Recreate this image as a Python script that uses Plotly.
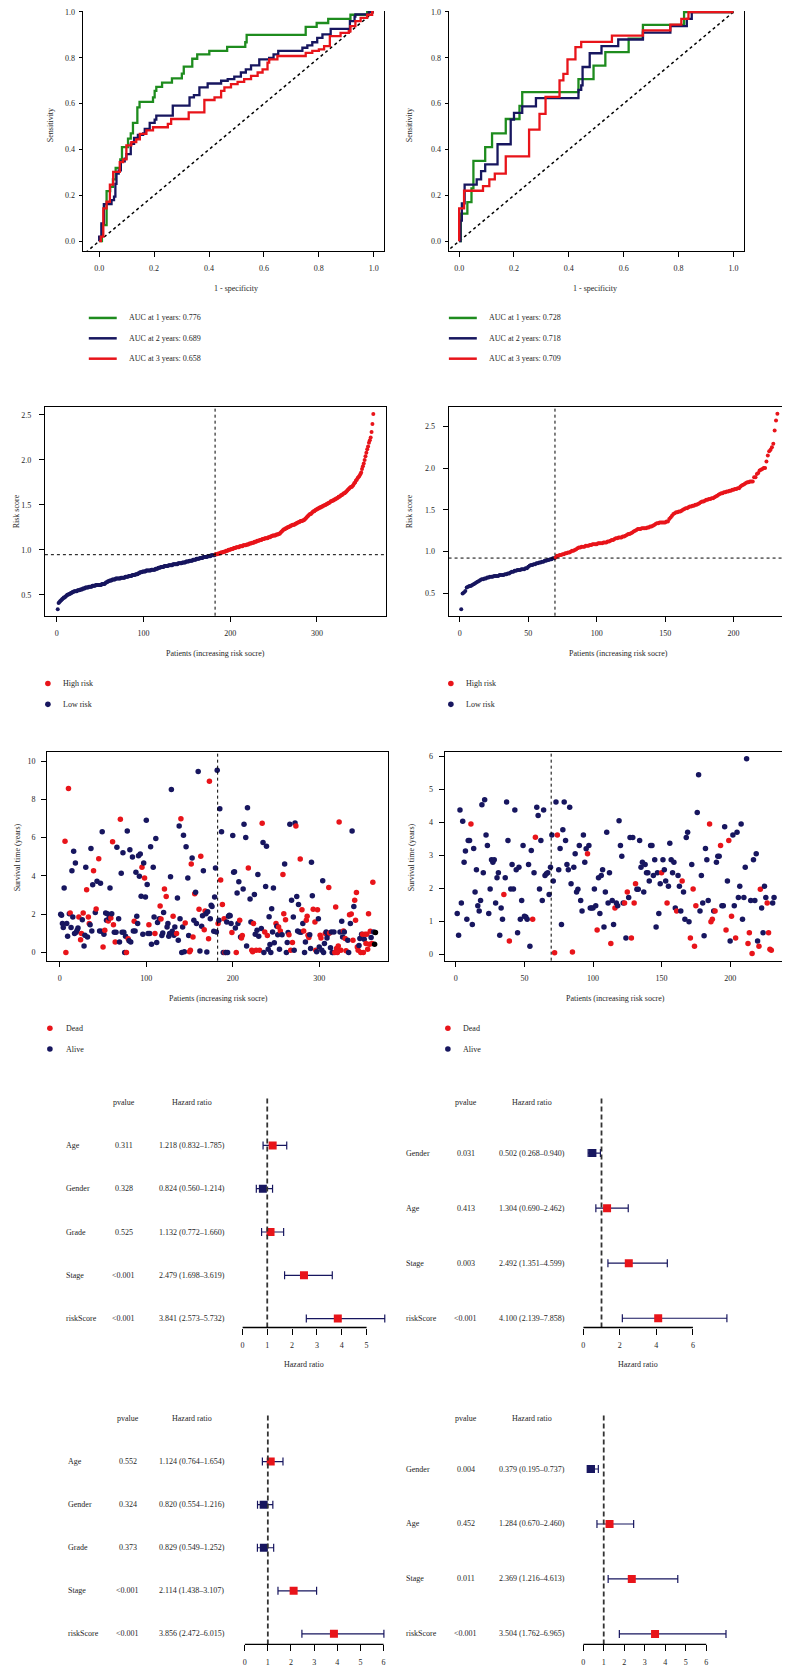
import plotly.graph_objects as go

# the page puts the figure 8 px in from the top-left corner of the window
OFF = 8
FW, FH = 790 - OFF, 1667 - OFF
FONT = "Liberation Serif"
INK = "#262626"
RED = "#E8141A"
NAVY = "#17165F"
GREEN = "#1E8C1E"

# ---------------- ROC (step corners: 1 - specificity, sensitivity) ----------------
roc_train_1y_x = [0, 0.005, 0.01, 0.027, 0.04, 0.05, 0.06, 0.077, 0.083, 0.105, 0.115, 0.123, 0.139, 0.147,
                  0.196, 0.202, 0.208, 0.229, 0.265, 0.301, 0.308, 0.339, 0.357, 0.401, 0.466, 0.532, 0.537,
                  0.752, 0.792, 0.834, 0.915, 0.976, 1.0]
roc_train_1y_y = [0, 0, 0.07, 0.218, 0.237, 0.27, 0.32, 0.357, 0.41, 0.447, 0.47, 0.516, 0.584, 0.608,
                  0.627, 0.656, 0.673, 0.692, 0.71, 0.731, 0.762, 0.796, 0.815, 0.83, 0.848, 0.868, 0.9,
                  0.935, 0.952, 0.97, 0.988, 1.0, 1.0]
roc_train_2y_x = [0, 0, 0.008, 0.017, 0.045, 0.054, 0.059, 0.063, 0.071, 0.079, 0.093, 0.099, 0.115, 0.127,
                  0.141, 0.16, 0.166, 0.184, 0.202, 0.208, 0.268, 0.329, 0.345, 0.365, 0.395, 0.444, 0.468,
                  0.492, 0.516, 0.534, 0.553, 0.583, 0.619, 0.635, 0.652, 0.74, 0.758, 0.776, 0.794, 0.813,
                  0.843, 0.913, 0.93, 0.933, 0.982, 1.0]
roc_train_2y_y = [0, 0.02, 0.078, 0.162, 0.179, 0.194, 0.25, 0.295, 0.309, 0.348, 0.36, 0.38, 0.425, 0.451,
                  0.464, 0.47, 0.49, 0.516, 0.53, 0.548, 0.591, 0.627, 0.637, 0.671, 0.688, 0.7, 0.707,
                  0.718, 0.736, 0.75, 0.767, 0.793, 0.8, 0.815, 0.83, 0.844, 0.854, 0.868, 0.887, 0.902,
                  0.926, 0.96, 0.98, 0.99, 1.0, 1.0]
roc_train_3y_x = [0, 0.006, 0.015, 0.027, 0.039, 0.051, 0.075, 0.087, 0.099, 0.117, 0.135, 0.148, 0.172,
                  0.196, 0.25, 0.262, 0.326, 0.383, 0.42, 0.444, 0.456, 0.48, 0.504, 0.528, 0.553, 0.577,
                  0.595, 0.613, 0.619, 0.649, 0.752, 0.776, 0.8, 0.819, 0.84, 0.879, 0.909, 0.915, 0.933,
                  0.952, 0.976, 0.994, 1.0]
roc_train_3y_y = [0, 0.02, 0.143, 0.172, 0.247, 0.302, 0.345, 0.357, 0.418, 0.432, 0.444, 0.468, 0.483,
                  0.497, 0.512, 0.533, 0.562, 0.616, 0.627, 0.656, 0.671, 0.685, 0.695, 0.707, 0.721, 0.736,
                  0.75, 0.779, 0.793, 0.808, 0.822, 0.83, 0.837, 0.851, 0.895, 0.909, 0.916, 0.938, 0.96,
                  0.974, 0.988, 1.0, 1.0]
roc_test_1y_x = [0, 0.006, 0.03, 0.045, 0.052, 0.095, 0.12, 0.17, 0.22, 0.23, 0.435, 0.49, 0.533, 0.618,
                 0.67, 0.82, 1.0]
roc_test_1y_y = [0, 0.12, 0.17, 0.23, 0.35, 0.41, 0.47, 0.533, 0.59, 0.65, 0.707, 0.766, 0.825, 0.884,
                 0.944, 1.0, 1.0]
roc_test_2y_x = [0, 0.005, 0.01, 0.02, 0.064, 0.08, 0.095, 0.14, 0.188, 0.2, 0.23, 0.28, 0.435, 0.445,
                 0.45, 0.476, 0.519, 0.58, 0.67, 0.77, 0.83, 0.848, 1.0]
roc_test_2y_y = [0, 0.09, 0.165, 0.247, 0.27, 0.306, 0.335, 0.423, 0.53, 0.56, 0.588, 0.624, 0.66, 0.68,
                 0.76, 0.82, 0.851, 0.88, 0.91, 0.938, 0.97, 1.0, 1.0]
roc_test_3y_x = [0, 0, 0.018, 0.087, 0.11, 0.13, 0.17, 0.255, 0.293, 0.315, 0.366, 0.38, 0.395, 0.424,
                 0.445, 0.557, 0.67, 0.77, 0.81, 0.836, 1.0]
roc_test_3y_y = [0, 0.143, 0.22, 0.24, 0.27, 0.295, 0.37, 0.487, 0.555, 0.63, 0.702, 0.73, 0.793, 0.847,
                 0.87, 0.897, 0.92, 0.945, 0.97, 1.0, 1.0]
auc_train = [0.776, 0.689, 0.658]
auc_test = [0.728, 0.718, 0.709]

# ---------------- risk score curves (sorted) ----------------
risk_train = [
    0.34, 0.41, 0.42, 0.43, 0.44, 0.45, 0.46, 0.47, 0.47, 0.48,
    0.49, 0.50, 0.50, 0.51, 0.51, 0.52, 0.52, 0.53, 0.53, 0.54,
    0.54, 0.54, 0.54, 0.55, 0.55, 0.55, 0.56, 0.56, 0.56, 0.57,
    0.57, 0.57, 0.58, 0.58, 0.58, 0.58, 0.59, 0.59, 0.59, 0.59,
    0.60, 0.60, 0.60, 0.60, 0.61, 0.61, 0.61, 0.61, 0.61, 0.61,
    0.61, 0.62, 0.62, 0.62, 0.62, 0.63, 0.64, 0.64, 0.65, 0.65,
    0.66, 0.66, 0.66, 0.67, 0.67, 0.67, 0.67, 0.68, 0.68, 0.68,
    0.68, 0.68, 0.68, 0.69, 0.69, 0.69, 0.69, 0.69, 0.70, 0.70,
    0.70, 0.70, 0.71, 0.71, 0.71, 0.71, 0.72, 0.72, 0.72, 0.72,
    0.73, 0.73, 0.73, 0.74, 0.74, 0.75, 0.75, 0.75, 0.76, 0.76,
    0.76, 0.76, 0.77, 0.77, 0.77, 0.77, 0.77, 0.77, 0.78, 0.78,
    0.78, 0.78, 0.78, 0.79, 0.79, 0.79, 0.80, 0.80, 0.80, 0.81,
    0.81, 0.81, 0.81, 0.82, 0.82, 0.82, 0.82, 0.82, 0.83, 0.83,
    0.83, 0.83, 0.83, 0.84, 0.84, 0.84, 0.84, 0.84, 0.84, 0.85,
    0.85, 0.85, 0.85, 0.85, 0.86, 0.86, 0.86, 0.86, 0.87, 0.87,
    0.87, 0.87, 0.88, 0.88, 0.88, 0.88, 0.89, 0.89, 0.89, 0.89,
    0.90, 0.90, 0.90, 0.90, 0.91, 0.91, 0.91, 0.91, 0.92, 0.92,
    0.92, 0.92, 0.92, 0.93, 0.93, 0.93, 0.93, 0.94, 0.94, 0.94,
    0.94, 0.94, 0.95, 0.95, 0.95, 0.96, 0.96, 0.96, 0.97, 0.97,
    0.97, 0.98, 0.98, 0.98, 0.99, 0.99, 0.99, 1.00, 1.00, 1.00,
    1.01, 1.01, 1.01, 1.02, 1.02, 1.02, 1.03, 1.03, 1.03, 1.03,
    1.04, 1.04, 1.04, 1.04, 1.05, 1.05, 1.05, 1.05, 1.06, 1.06,
    1.06, 1.07, 1.07, 1.07, 1.08, 1.08, 1.08, 1.09, 1.09, 1.09,
    1.10, 1.10, 1.10, 1.11, 1.11, 1.11, 1.12, 1.12, 1.12, 1.13,
    1.13, 1.13, 1.13, 1.14, 1.14, 1.14, 1.15, 1.15, 1.16, 1.16,
    1.16, 1.16, 1.17, 1.17, 1.17, 1.18, 1.18, 1.19, 1.20, 1.21,
    1.22, 1.23, 1.23, 1.24, 1.24, 1.25, 1.25, 1.26, 1.26, 1.27,
    1.27, 1.28, 1.28, 1.28, 1.29, 1.29, 1.30, 1.30, 1.31, 1.31,
    1.32, 1.32, 1.32, 1.33, 1.33, 1.34, 1.35, 1.36, 1.37, 1.38,
    1.39, 1.40, 1.40, 1.41, 1.42, 1.43, 1.43, 1.44, 1.45, 1.45,
    1.46, 1.46, 1.47, 1.47, 1.48, 1.48, 1.49, 1.49, 1.50, 1.50,
    1.51, 1.51, 1.52, 1.52, 1.53, 1.54, 1.54, 1.55, 1.55, 1.56,
    1.56, 1.57, 1.57, 1.58, 1.59, 1.59, 1.60, 1.61, 1.61, 1.62,
    1.63, 1.63, 1.64, 1.65, 1.66, 1.67, 1.68, 1.69, 1.70, 1.70,
    1.71, 1.72, 1.74, 1.75, 1.77, 1.78, 1.80, 1.81, 1.82, 1.84,
    1.86, 1.90, 1.93, 1.96, 2.00, 2.04, 2.08, 2.12, 2.15, 2.19,
    2.22, 2.25, 2.31, 2.40, 2.51,
]
risk_test = [
    0.31, 0.50, 0.51, 0.53, 0.57, 0.58, 0.59, 0.59, 0.60, 0.61,
    0.62, 0.63, 0.64, 0.65, 0.66, 0.67, 0.67, 0.68, 0.68, 0.69,
    0.69, 0.70, 0.70, 0.70, 0.71, 0.71, 0.71, 0.71, 0.72, 0.72,
    0.72, 0.72, 0.73, 0.73, 0.74, 0.74, 0.75, 0.76, 0.76, 0.77,
    0.77, 0.78, 0.78, 0.78, 0.79, 0.79, 0.79, 0.80, 0.80, 0.82,
    0.83, 0.84, 0.84, 0.85, 0.85, 0.86, 0.86, 0.87, 0.87, 0.88,
    0.88, 0.89, 0.89, 0.90, 0.90, 0.91, 0.91, 0.92, 0.92, 0.93,
    0.95, 0.95, 0.96, 0.96, 0.97, 0.97, 0.98, 0.98, 0.99, 0.99,
    1.00, 1.01, 1.01, 1.02, 1.03, 1.04, 1.05, 1.05, 1.06, 1.06,
    1.06, 1.07, 1.07, 1.07, 1.08, 1.08, 1.09, 1.09, 1.09, 1.09,
    1.10, 1.10, 1.10, 1.10, 1.11, 1.11, 1.11, 1.12, 1.12, 1.13,
    1.14, 1.14, 1.15, 1.16, 1.16, 1.17, 1.17, 1.17, 1.18, 1.18,
    1.19, 1.20, 1.21, 1.21, 1.22, 1.23, 1.24, 1.25, 1.26, 1.27,
    1.27, 1.27, 1.28, 1.28, 1.28, 1.28, 1.29, 1.29, 1.30, 1.30,
    1.31, 1.32, 1.33, 1.34, 1.34, 1.35, 1.35, 1.35, 1.35, 1.35,
    1.36, 1.36, 1.39, 1.41, 1.43, 1.45, 1.46, 1.47, 1.47, 1.48,
    1.48, 1.49, 1.50, 1.51, 1.52, 1.52, 1.53, 1.54, 1.54, 1.55,
    1.55, 1.56, 1.56, 1.57, 1.58, 1.59, 1.60, 1.60, 1.61, 1.62,
    1.62, 1.63, 1.63, 1.64, 1.64, 1.65, 1.66, 1.67, 1.68, 1.69,
    1.70, 1.70, 1.71, 1.71, 1.72, 1.72, 1.73, 1.73, 1.74, 1.74,
    1.75, 1.75, 1.76, 1.76, 1.78, 1.79, 1.80, 1.81, 1.82, 1.83,
    1.83, 1.84, 1.84, 1.84, 1.89, 1.89, 1.93, 1.94, 1.97, 1.98,
    1.99, 2.00, 2.00, 2.08, 2.15, 2.20, 2.22, 2.25, 2.29, 2.45,
    2.57, 2.65,
]
n_low_train, cut_train = 182, 0.946
n_low_test, cut_test = 69, 0.923

# ---------------- survival status (rank, years, dead) ----------------
surv_train_rank = [
    1, 2, 3, 4, 5, 6, 7, 8, 9, 10, 11, 12, 13, 14, 15, 16, 17, 18, 19, 20, 21, 22, 24, 25, 26, 27, 28, 29, 30,
    31, 32, 33, 34, 35, 36, 37, 38, 39, 41, 42, 43, 45, 46, 47, 48, 49, 50, 51, 52, 53, 54, 55, 56, 57, 58,
    59, 60, 61, 62, 63, 64, 65, 66, 68, 69, 70, 71, 72, 73, 74, 75, 76, 77, 78, 79, 80, 81, 82, 84, 85, 86,
    87, 88, 89, 90, 91, 92, 93, 94, 95, 96, 97, 98, 99, 100, 101, 102, 103, 104, 105, 106, 108, 109, 110,
    111, 112, 113, 115, 116, 117, 118, 119, 120, 121, 123, 124, 125, 126, 127, 128, 129, 130, 131, 132, 133,
    135, 136, 137, 138, 139, 140, 141, 142, 143, 144, 145, 146, 148, 149, 150, 151, 152, 153, 154, 155, 156,
    157, 158, 160, 161, 162, 163, 164, 165, 166, 167, 168, 169, 170, 171, 172, 173, 174, 175, 176, 178, 179,
    180, 181, 182, 183, 184, 185, 186, 187, 188, 189, 190, 191, 192, 193, 194, 195, 196, 197, 198, 199, 200,
    201, 202, 203, 204, 205, 206, 207, 208, 209, 210, 211, 212, 213, 215, 216, 217, 218, 220, 221, 222, 223,
    224, 225, 226, 227, 228, 229, 230, 231, 233, 234, 235, 236, 237, 238, 239, 240, 241, 242, 243, 244, 245,
    246, 247, 248, 250, 251, 252, 253, 254, 255, 257, 258, 259, 260, 261, 262, 263, 264, 265, 266, 267, 268,
    269, 270, 271, 272, 273, 274, 275, 276, 277, 278, 279, 280, 281, 282, 283, 284, 285, 286, 287, 288, 289,
    290, 291, 292, 293, 295, 296, 297, 298, 299, 300, 301, 302, 303, 304, 305, 306, 307, 308, 309, 310, 311,
    312, 313, 314, 315, 316, 317, 318, 319, 320, 321, 322, 323, 324, 325, 326, 327, 328, 329, 330, 331, 333,
    334, 335, 336, 337, 338, 339, 340, 341, 342, 343, 344, 345, 346, 347, 348, 349, 350, 351, 352, 353, 354,
    355, 356, 357, 358, 359, 360, 361, 362, 363, 364, 365,
]
surv_train_time = [
    1.99, 1.94, 1.51, 1.30, 3.37, 5.81, 0.00, 1.51, 0.85, 8.56, 2.02, 2.06, 1.30, 4.27, 1.85, 5.29, 0.99, 4.67,
    1.06, 1.16, 1.28, 1.85, 0.66, 0.99, 1.71, 2.06, 0.33, 0.90, 4.45, 3.27, 0.81, 1.85, 1.51, 1.45, 5.43, 1.12,
    3.53, 4.27, 2.09, 2.27, 3.72, 4.90, 1.12, 3.62, 1.11, 6.30, 0.29, 0.95, 1.16, 2.06, 1.68, 2.02, 1.64, 1.80,
    3.36, 1.80, 2.02, 5.78, 1.45, 1.06, 0.55, 1.06, 5.50, 1.76, 0.55, 6.96, 4.14, 1.06, 5.21, 1.06, 0.00, 0.85,
    0.00, 6.35, 0.71, 0.61, 5.36, 0.55, 4.98, 1.12, 1.63, 1.12, 4.19, 1.89, 1.51, 5.05, 3.98, 5.14, 2.94, 4.45,
    0.95, 4.67, 3.89, 2.89, 6.90, 3.55, 0.99, 1.45, 0.99, 5.52, 0.43, 4.45, 1.85, 0.99, 5.95, 0.52, 1.57, 1.76,
    2.42, 1.75, 0.88, 1.02, 2.08, 3.32, 2.92, 1.33, 1.51, 0.85, 0.99, 3.96, 8.51, 1.11, 1.89, 0.90, 1.33, 0.99,
    2.85, 0.64, 6.61, 1.76, 6.99, 0.00, 1.33, 6.12, 0.03, 1.54, 5.52, 3.89, 0.88, 0.03, 0.12, 4.62, 4.93, 0.81,
    1.68, 3.06, 3.15, 1.51, 9.46, 2.25, 0.07, 5.03, 1.37, 1.92, 4.27, 1.19, 2.16, 2.02, 0.02, 2.13, 0.71, 8.94,
    1.76, 2.46, 2.40, 1.11, 2.89, 4.41, 1.07, 9.52, 1.51, 1.68, 7.51, 3.79, 6.30, 2.51, 0.00, 1.76, 0.00, 0.00,
    1.59, 0.00, 1.89, 1.94, 1.92, 1.51, 1.04, 6.11, 4.19, 4.22, 1.28, 0.00, 3.10, 1.51, 3.69, 1.68, 0.81, 0.76,
    0.88, 3.32, 6.70, 6.00, 0.33, 7.56, 4.41, 2.79, 1.59, 0.12, 0.03, 1.51, 3.03, 0.95, 0.12, 1.16, 4.07, 0.85,
    0.12, 1.25, 6.75, 5.74, 0.00, 1.07, 3.44, 5.55, 0.88, 0.17, 1.87, 0.42, 0.00, 2.28, 1.07, 3.36, 0.50, 1.51,
    1.37, 0.93, 1.33, 0.17, 1.12, 0.93, 4.07, 2.02, 4.62, 1.71, 0.00, 0.52, 1.04, 0.93, 6.70, 0.12, 2.72, 0.52,
    1.85, 0.12, 6.76, 6.61, 2.92, 1.12, 2.51, 1.07, 4.88, 1.06, 2.23, 1.51, 1.12, 0.00, 0.55, 1.68, 1.89, 0.90,
    0.78, 0.93, 0.21, 4.71, 2.96, 2.25, 1.59, 0.12, 0.03, 2.23, 1.76, 0.29, 0.90, 0.76, 0.12, 3.75, 0.00, 0.47,
    0.99, 1.07, 0.76, 0.95, 3.39, 1.02, 0.24, 1.07, 0.00, 0.00, 1.07, 0.00, 2.37, 0.21, 0.00, 0.33, 6.82, 1.07,
    0.12, 1.63, 0.81, 1.12, 1.07, 0.73, 0.09, 0.64, 0.00, 1.97, 1.51, 2.01, 6.35, 0.64, 2.40, 2.72, 1.68, 3.13,
    0.29, 0.12, 0.36, 0.73, 0.00, 0.95, 0.95, 0.00, 0.69, 0.95, 0.47, 0.95, 0.17, 2.02, 0.43, 1.11, 0.78, 0.47,
    3.67, 1.07, 0.43, 1.04,
]
surv_train_dead = [
    0, 0, 0, 0, 0, 1, 1, 0, 0, 1, 0, 1, 0, 0, 0, 0, 0, 0, 0, 0, 0, 1, 1, 1, 0, 1, 0, 0, 0, 1, 0, 1, 1, 0, 0, 0,
    0, 1, 0, 1, 0, 1, 0, 0, 0, 0, 1, 0, 1, 0, 0, 0, 1, 0, 0, 1, 0, 1, 1, 0, 1, 0, 0, 0, 0, 1, 0, 0, 0, 0, 0, 0,
    1, 0, 1, 0, 0, 0, 0, 0, 1, 0, 0, 0, 0, 0, 0, 0, 0, 1, 0, 0, 1, 0, 0, 0, 0, 1, 0, 0, 0, 0, 0, 1, 0, 0, 0, 0,
    1, 1, 0, 0, 0, 1, 1, 0, 0, 0, 0, 0, 0, 0, 1, 0, 0, 1, 0, 0, 0, 0, 1, 0, 0, 0, 0, 1, 0, 0, 0, 1, 1, 1, 0, 1,
    0, 1, 0, 0, 0, 1, 0, 1, 0, 0, 0, 1, 1, 0, 0, 0, 1, 1, 0, 0, 0, 0, 0, 0, 0, 0, 1, 0, 0, 1, 0, 1, 0, 1, 1, 0,
    0, 0, 0, 0, 0, 0, 1, 0, 0, 0, 0, 1, 0, 0, 0, 1, 0, 1, 1, 0, 0, 0, 0, 0, 1, 0, 0, 1, 1, 1, 0, 0, 1, 0, 0, 0,
    1, 0, 1, 0, 0, 1, 0, 0, 1, 0, 0, 0, 0, 0, 0, 0, 0, 1, 0, 0, 1, 0, 1, 0, 1, 1, 0, 1, 0, 0, 0, 1, 0, 1, 0, 1,
    0, 0, 0, 1, 0, 0, 0, 0, 1, 0, 1, 0, 1, 0, 0, 1, 1, 1, 1, 0, 0, 0, 0, 1, 1, 1, 0, 1, 0, 0, 1, 1, 0, 0, 0, 0,
    1, 0, 0, 0, 1, 1, 0, 0, 0, 0, 0, 1, 1, 1, 1, 1, 1, 0, 1, 0, 0, 1, 0, 1, 1, 0, 0, 1, 0, 1, 0, 1, 0, 1, 1, 1,
    1, 1, 0, 0, 1, 0, 1, 1, 0, 1, 1, 1, 1, 1, 1, 1, 0, 1, 1, 0,
]
surv_test_time = [
    1.23, 0.57, 4.38, 1.55, 4.04, 2.79, 3.13, 1.06, 3.45, 3.45, 3.95, 0.90, 3.21, 1.89, 2.56, 1.47, 1.31, 1.63,
    4.54, 2.47, 4.69, 3.62, 3.30, 1.23, 1.98, 2.87, 2.79, 2.87, 1.55, 2.32, 2.47, 0.57, 1.40, 1.06, 1.81, 2.32,
    4.62, 3.45, 0.40, 1.98, 2.72, 1.98, 4.38, 2.56, 0.65, 2.64, 1.06, 1.63, 3.30, 1.15, 1.13, 1.06, 2.72, 0.24,
    3.15, 1.06, 2.47, 3.55, 4.46, 4.21, 1.98, 3.45, 1.63, 4.38, 2.39, 2.44, 2.47, 1.81, 2.64, 3.62, 2.22, 0.04,
    4.62, 3.62, 2.56, 3.21, 0.90, 3.78, 4.62, 3.45, 2.72, 2.56, 4.46, 2.14, 0.06, 2.64, 3.05, 1.89, 1.97, 3.30,
    1.63, 1.31, 3.62, 2.79, 3.20, 3.05, 3.30, 1.40, 1.40, 1.40, 1.98, 1.47, 0.73, 2.32, 1.23, 2.39, 2.56, 0.82,
    1.89, 3.70, 1.55, 2.47, 0.32, 1.63, 0.90, 1.40, 1.55, 1.47, 4.05, 3.30, 2.97, 1.55, 1.55, 0.49, 1.89, 1.72,
    3.54, 0.49, 3.54, 1.55, 2.14, 1.97, 1.97, 3.45, 2.64, 2.79, 1.89, 2.72, 2.47, 2.47, 2.22, 3.30, 3.30, 2.39,
    2.87, 0.82, 2.47, 1.23, 2.14, 2.47, 2.87, 2.56, 2.22, 1.55, 2.06, 3.37, 2.87, 2.47, 2.79, 1.40, 1.31, 2.39,
    2.06, 1.31, 2.22, 1.89, 1.06, 3.54, 3.70, 0.98, 0.49, 2.72, 1.98, 0.24, 1.47, 4.30, 5.45, 1.31, 2.39, 1.55,
    0.56, 3.21, 2.87, 1.63, 3.95, 0.98, 1.06, 1.31, 1.31, 2.79, 2.97, 2.97, 3.30, 1.47, 1.47, 3.87, 0.73, 2.22,
    3.45, 0.40, 1.15, 3.62, 1.47, 0.49, 3.70, 1.72, 2.06, 3.95, 1.06, 1.72, 2.64, 5.94, 0.32, 0.65, 1.63, 0.02,
    2.87, 1.63, 3.05, 0.40, 0.24, 1.97, 1.40, 0.65, 2.06, 1.72, 1.55, 0.65, 0.15, 0.12, 1.55, 1.72,
]
surv_test_dead = [
    0, 0, 0, 0, 0, 0, 0, 0, 0, 0, 1, 0, 0, 0, 0, 0, 0, 0, 0, 0, 0, 0, 0, 0, 0, 0, 0, 0, 0, 0, 0, 0, 0, 0, 1, 0,
    0, 0, 1, 0, 0, 0, 0, 0, 0, 0, 0, 0, 0, 0, 0, 0, 0, 0, 0, 1, 0, 1, 0, 0, 0, 0, 0, 0, 0, 0, 0, 0, 0, 0, 0, 1,
    0, 1, 0, 0, 0, 0, 0, 0, 0, 0, 0, 0, 1, 0, 0, 0, 0, 0, 0, 0, 0, 0, 0, 1, 0, 0, 0, 0, 0, 0, 1, 0, 0, 0, 0, 0,
    0, 0, 0, 0, 1, 0, 0, 1, 0, 0, 0, 0, 0, 0, 1, 0, 1, 0, 0, 1, 0, 1, 1, 0, 0, 0, 0, 0, 0, 0, 0, 0, 0, 0, 0, 0,
    0, 0, 0, 0, 0, 1, 0, 0, 0, 1, 0, 0, 0, 0, 0, 0, 1, 0, 0, 0, 1, 0, 0, 0, 0, 0, 1, 0, 1, 1, 1, 0, 0, 0, 0, 0,
    0, 0, 0, 0, 1, 1, 1, 0, 1, 0, 0, 0, 1, 0, 0, 0, 1, 0, 1, 0, 1, 0, 0, 1, 0, 0, 0, 0, 0, 0, 0, 0, 1, 1, 0, 1,
    0, 0, 0, 0, 1, 1, 0, 0, 0, 0, 1, 1, 1, 1, 0, 0,
]

# ---------------- Cox regression (forest plots) ----------------
uni_train_vars = ["Age", "Gender", "Grade", "Stage", "riskScore"]
uni_train_p = ["0.311", "0.328", "0.525", "<0.001", "<0.001"]
uni_train_hr = [1.218, 0.824, 1.132, 2.479, 3.841]
uni_train_lo = [0.832, 0.560, 0.772, 1.698, 2.573]
uni_train_hi = [1.785, 1.214, 1.660, 3.619, 5.732]

uni_test_vars = ["Gender", "Age", "Stage", "riskScore"]
uni_test_p = ["0.031", "0.413", "0.003", "<0.001"]
uni_test_hr = [0.502, 1.304, 2.492, 4.100]
uni_test_lo = [0.268, 0.690, 1.351, 2.139]
uni_test_hi = [0.940, 2.462, 4.599, 7.858]

multi_train_vars = ["Age", "Gender", "Grade", "Stage", "riskScore"]
multi_train_p = ["0.552", "0.324", "0.373", "<0.001", "<0.001"]
multi_train_hr = [1.124, 0.820, 0.829, 2.114, 3.856]
multi_train_lo = [0.764, 0.554, 0.549, 1.438, 2.472]
multi_train_hi = [1.654, 1.216, 1.252, 3.107, 6.015]

multi_test_vars = ["Gender", "Age", "Stage", "riskScore"]
multi_test_p = ["0.004", "0.452", "0.011", "<0.001"]
multi_test_hr = [0.379, 1.284, 2.369, 3.504]
multi_test_lo = [0.195, 0.670, 1.216, 1.762]
multi_test_hi = [0.737, 2.460, 4.613, 6.965]


def fx(x):
    return (x - OFF) / FW


def fy(y):
    return 1 - (y - OFF) / FH


fig = go.Figure()


def txt(x, y, s, anchor="center", yref="paper", angle=0, size=8):
    fig.add_annotation(x=fx(x), y=fy(y) if yref == "paper" else y, xref="paper", yref=yref,
                       text=s, showarrow=False, xanchor=anchor, yanchor="middle", textangle=angle,
                       font=dict(family=FONT, size=size, color=INK))


def panel(i, xdom, ydom, xr, yr, xt, yt, xfmt="", yfmt="", ylen=5, ystand=5, top_line=True):
    s = "" if i == 1 else str(i)
    tf = dict(family=FONT, size=8, color=INK)
    common = dict(showgrid=False, zeroline=False, showline=True, linecolor="black",
                  linewidth=1, ticks="outside", tickcolor="black", tickwidth=1, tickfont=tf,
                  ticklabeloverflow="allow")
    fig.update_layout(**{
        f"xaxis{s}": dict(domain=[fx(xdom[0]), min(1, fx(xdom[1]))], range=xr, tickvals=xt, tickformat=xfmt,
                          anchor=f"y{s}", ticklen=5, ticklabelstandoff=5, mirror=top_line, **common),
        f"yaxis{s}": dict(domain=[fy(ydom[1]), min(1, fy(ydom[0]))], range=yr, tickvals=yt, tickformat=yfmt,
                          anchor=f"x{s}", ticklen=ylen, ticklabelstandoff=ystand, mirror=True, **common),
    })
    return f"x{s}", f"y{s}"


def legend_line(x0, x1, y, color, label, tx):
    fig.add_shape(type="line", xref="paper", yref="paper", x0=fx(x0), x1=fx(x1), y0=fy(y), y1=fy(y),
                  line=dict(color=color, width=2.5))
    txt(tx, y, label, anchor="left")


def legend_dot(cx, y, color, label, tx, r=2.8):
    fig.add_shape(type="circle", xref="paper", yref="paper", x0=fx(cx - r), x1=fx(cx + r),
                  y0=fy(y + r), y1=fy(y - r), fillcolor=color, line=dict(width=0))
    txt(tx, y, label, anchor="left")


# ---- ROC panels (top border lies just outside the window) ----
roc_ticks = [0, 0.2, 0.4, 0.6, 0.8, 1.0]
roc_sets = [
    (1, (80.7, 383.3), (-0.0607, 1.0384), [(roc_train_1y_x, roc_train_1y_y), (roc_train_2y_x, roc_train_2y_y),
                                             (roc_train_3y_x, roc_train_3y_y)], auc_train, 48, 235, 87, 125),
    (2, (447.7, 744.0), (-0.0385, 1.0389), [(roc_test_1y_x, roc_test_1y_y), (roc_test_2y_x, roc_test_2y_y),
                                              (roc_test_3y_x, roc_test_3y_y)], auc_test, 408, 595, 448, 486),
]
for i, xdom, xr, curves, aucs, ytx, xtx, lx, tx in roc_sets:
    xa, ya = panel(i, xdom, (OFF, 249.3), xr, [-0.0416, 1.039 - OFF / 230.7], roc_ticks, roc_ticks, ".1f", ".1f",
                   ylen=3, ystand=2, top_line=False)
    fig.add_trace(go.Scatter(x=[-0.2, 1.2], y=[-0.2, 1.2], mode="lines", xaxis=xa, yaxis=ya,
                             line=dict(color="black", width=1.5, dash="3px,3px")))
    for (cx, cy), col in zip(curves, [GREEN, NAVY, RED]):
        fig.add_trace(go.Scatter(x=cx, y=cy, mode="lines", xaxis=xa, yaxis=ya, cliponaxis=False,
                                 line=dict(color=col, width=2.3, shape="hv")))
    txt(ytx, 123, "Sensitivity", angle=-90)
    txt(xtx, 287, "1 - specificity")
    for k, (auc, col) in enumerate(zip(aucs, [GREEN, NAVY, RED])):
        legend_line(lx, lx + 28, 317 + 20.5 * k, col, f"AUC at {k + 1} years: {auc:.3f}", tx)

# ---- risk score panels ----
risk_sets = [
    (3, risk_train, n_low_train, cut_train, (43, 385), [-13.8, 379.7], [0.268, 2.588], [0, 100, 200, 300],
     14, 214, 46, 59),
    (4, risk_test, n_low_test, cut_test, (447.7, 789.3), [-8.24, 240.7], [0.234, 2.73], [0, 50, 100, 150, 200],
     408, 618, 450, 463),
]
for i, vals, nlow, cut, xdom, xr, yr, xt, ytx, xtx, dx, tx in risk_sets:
    xa, ya = panel(i, xdom, (406.7, 616.7), xr, yr, xt, [0.5, 1.0, 1.5, 2.0, 2.5], "", ".1f", ylen=5, ystand=6)
    idx = list(range(1, len(vals) + 1))
    cols = [NAVY if k <= nlow else RED for k in idx]
    fig.add_trace(go.Scatter(x=idx, y=vals, mode="markers", xaxis=xa, yaxis=ya,
                             marker=dict(color=cols, size=4, line=dict(width=0))))
    fig.add_shape(type="line", xref=f"{xa} domain", yref=ya, x0=0, x1=1, y0=cut, y1=cut,
                  line=dict(color="black", width=1, dash="dot"))
    fig.add_shape(type="line", xref=xa, yref=f"{ya} domain", x0=nlow + 0.5, x1=nlow + 0.5, y0=0, y1=1,
                  line=dict(color="black", width=1, dash="dot"))
    txt(ytx, 511.7, "Risk score", angle=-90)
    txt(xtx, 655, "Patients (increasing risk socre)")
    legend_dot(dx, 685, RED, "High risk", tx)
    legend_dot(dx, 706, NAVY, "Low risk", tx)

# ---- survival status panels ----
surv_sets = [
    (5, surv_train_rank, surv_train_time, surv_train_dead, n_low_train, (45.3, 386.7), [-14.6, 379.2],
     [-0.43, 10.47], [0, 100, 200, 300], [0, 2, 4, 6, 8, 10], 15, 217, 48, 62),
    (6, list(range(1, len(surv_test_time) + 1)), surv_test_time, surv_test_dead, n_low_test, (443.7, 785),
     [-8.22, 240.0], [-0.2, 6.14], [0, 50, 100, 150, 200], [0, 1, 2, 3, 4, 5, 6], 410, 615, 447, 460),
]
for i, rank, tm, dead, nlow, xdom, xr, yr, xt, yt, ytx, xtx, dx, tx in surv_sets:
    xa, ya = panel(i, xdom, (754, 964), xr, yr, xt, yt, ylen=5, ystand=4)
    cols = [RED if d else NAVY for d in dead]
    fig.add_trace(go.Scatter(x=rank, y=tm, mode="markers", xaxis=xa, yaxis=ya,
                             marker=dict(color=cols, size=5.5, line=dict(width=0))))
    fig.add_shape(type="line", xref=xa, yref=f"{ya} domain", x0=nlow + 0.5, x1=nlow + 0.5, y0=0, y1=1,
                  line=dict(color="black", width=1, dash="dot"))
    txt(ytx, 860, "Survival time (years)", angle=-90)
    txt(xtx, 1002, "Patients (increasing risk socre)")
    legend_dot(dx, 1032, RED, "Dead", tx)
    legend_dot(dx, 1053, NAVY, "Alive", tx)

# ---- forest plots ----
forest_sets = [
    (7, uni_train_vars, uni_train_p, uni_train_hr, uni_train_lo, uni_train_hi, (241, 385), (1102.7, 1333.3),
     [5.206, -0.085], [0, 5.783], [0, 1, 2, 3, 4, 5], (62, 122, 190), 1107, True),
    (8, uni_test_vars, uni_test_p, uni_test_hr, uni_test_lo, uni_test_hi, (582.7, 750), (1102.7, 1333.3),
     [4.168, 0.008], [0, 9.127], [0, 2, 4, 6], (403, 465, 531), 1107, True),
    (9, multi_train_vars, multi_train_p, multi_train_hr, multi_train_lo, multi_train_hi, (243.3, 390),
     (1421, 1652.3), [5.245, -0.091], [0, 6.323], [0, 1, 2, 3, 4, 5, 6], (64, 126, 190), 1425.3, False),
    (10, multi_test_vars, multi_test_p, multi_test_hr, multi_test_lo, multi_test_hi, (582.7, 740),
     (1421, 1652.3), [4.19, 0.011], [0, 7.655], [0, 1, 2, 3, 4, 5, 6], (403, 465, 531), 1425.3, False),
]
for i, var, pv, hr, lo, hi, xdom, ydom, yr, xr, xt, cols, hy, title in forest_sets:
    s = str(i)
    tf = dict(family=FONT, size=8, color=INK)
    fig.update_layout(**{
        f"xaxis{s}": dict(domain=[fx(xdom[0]), fx(xdom[1])], range=xr, tickvals=xt, anchor=f"y{s}",
                          showgrid=False, zeroline=False, showline=False, ticks="outside", ticklen=6,
                          tickwidth=1.3, tickcolor="black", tickfont=tf, ticklabelstandoff=4,
                          ticklabeloverflow="allow"),
        f"yaxis{s}": dict(domain=[fy(ydom[1]), fy(ydom[0])], range=yr, visible=False, anchor=f"x{s}"),
    })
    xa, ya = f"x{s}", f"y{s}"
    rows = list(range(1, len(var) + 1))
    fig.add_shape(type="line", xref=xa, yref=f"{ya} domain", x0=1, x1=1, y0=0, y1=1,
                  line=dict(color="#333333", width=1.8, dash="5px,3px"))
    fig.add_shape(type="line", xref=xa, yref=f"{ya} domain", x0=xt[0], x1=xt[-1], y0=0, y1=0,
                  line=dict(color="black", width=1.3))
    fig.add_trace(go.Scatter(
        x=hr, y=rows, mode="markers", xaxis=xa, yaxis=ya,
        error_x=dict(type="data", symmetric=False, array=[h - m for h, m in zip(hi, hr)],
                     arrayminus=[m - l for m, l in zip(hr, lo)], color=NAVY, thickness=1.2, width=4),
        marker=dict(symbol="square", size=8, color=[RED if m > 1 else NAVY for m in hr], line=dict(width=0)),
    ))
    txt(cols[1], hy, "pvalue")
    txt(cols[2], hy, "Hazard ratio")
    for r, v, p, m, l, h in zip(rows, var, pv, hr, lo, hi):
        txt(cols[0], r, v, anchor="left", yref=ya)
        txt(cols[1], r, p, yref=ya)
        txt(cols[2], r, f"{m:.3f} ({l:.3f}\u2013{h:.3f})", yref=ya)
    if title:
        txt(xdom[0] + xt[-1] * (xdom[1] - xdom[0]) / xr[1] / 2, 1371, "Hazard ratio")

fig.update_layout(
    width=FW, height=FH, margin=dict(l=0, r=0, t=0, b=0),
    paper_bgcolor="white", plot_bgcolor="white", showlegend=False,
    font=dict(family=FONT, size=8, color=INK),
)

fig.write_html("out.html")
